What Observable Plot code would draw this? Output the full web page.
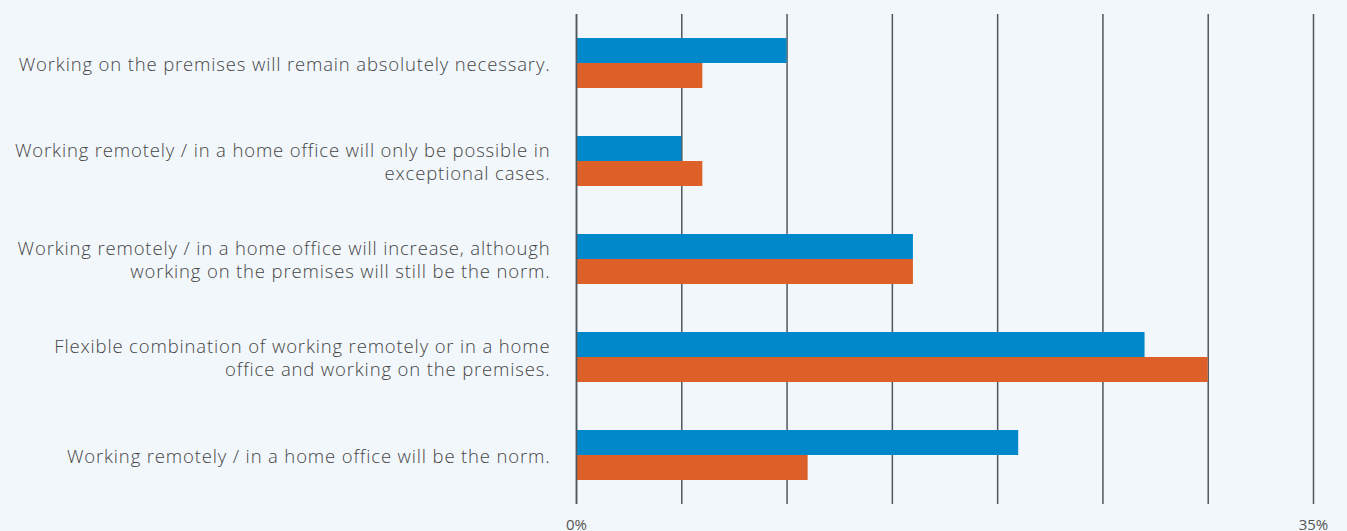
<!DOCTYPE html>
<html>
<head>
<meta charset="utf-8">
<script src="https://cdn.jsdelivr.net/npm/d3@7"></script>
<script src="https://cdn.jsdelivr.net/npm/@observablehq/plot@0.6"></script>
<style>
  html, body { margin: 0; padding: 0; background: #f2f7fb; }
  #chart svg { display: block; }
  #chart svg .cat-label text { letter-spacing: 0.85px; }
</style>
</head>
<body>
<div id="chart"></div>
<script>
const categories = [
  "Working on the premises will remain absolutely necessary.",
  "Working remotely / in a home office will only be possible in\nexceptional cases.",
  "Working remotely / in a home office will increase, although\nworking on the premises will still be the norm.",
  "Flexible combination of working remotely or in a home\noffice and working on the premises.",
  "Working remotely / in a home office will be the norm."
];
const seriesNames = ["Series 1", "Series 2"];
const series1Values = [10, 5, 16, 27, 21];
const series2Values = [6, 6, 16, 30, 11];
const seriesColors = ["#0088cb", "#dc6027"];
const xTicks = [0, 5, 10, 15, 20, 25, 30, 35];
const xTickLabels = [0, 35];

const data = [];
categories.forEach((c, i) => {
  data.push({category: c, series: seriesNames[0], value: series1Values[i]});
  data.push({category: c, series: seriesNames[1], value: series2Values[i]});
});

const chart = Plot.plot({
  width: 1347,
  height: 531,
  marginLeft: 576,
  marginRight: 34,
  marginTop: 13,
  marginBottom: 26,
  style: {background: "#f2f7fb", fontFamily: "'Open Sans', sans-serif"},
  x: {domain: [0, 35], label: null},
  y: {domain: seriesNames, paddingInner: 0, paddingOuter: 0.894, axis: null},
  fy: {domain: categories, padding: 0, axis: null},
  color: {domain: seriesNames, range: seriesColors},
  marks: [
    Plot.ruleX(xTicks, {stroke: "#4d575c", strokeWidth: 1.5, strokeOpacity: 1}),
    Plot.barX(data, {x: "value", y: "series", fy: "category", fill: "series"}),
    Plot.ruleX([0], {stroke: "#4d575c", strokeWidth: 1.5}),
    Plot.text(categories, {
      fy: d => d, text: d => d, frameAnchor: "left", textAnchor: "end",
      dx: -26, dy: 0, fontSize: 18.5, fill: "#454545", lineHeight: 1.23, fontWeight: 300,
      className: "cat-label"
    }),
    Plot.axisX(xTickLabels, {
      anchor: "bottom", tickSize: 0, tickPadding: 15, fontSize: 15,
      fill: "#555", tickFormat: d => d + "%", facetAnchor: "bottom", label: null
    })
  ]
});
document.getElementById("chart").appendChild(chart);
</script>
</body>
</html>
